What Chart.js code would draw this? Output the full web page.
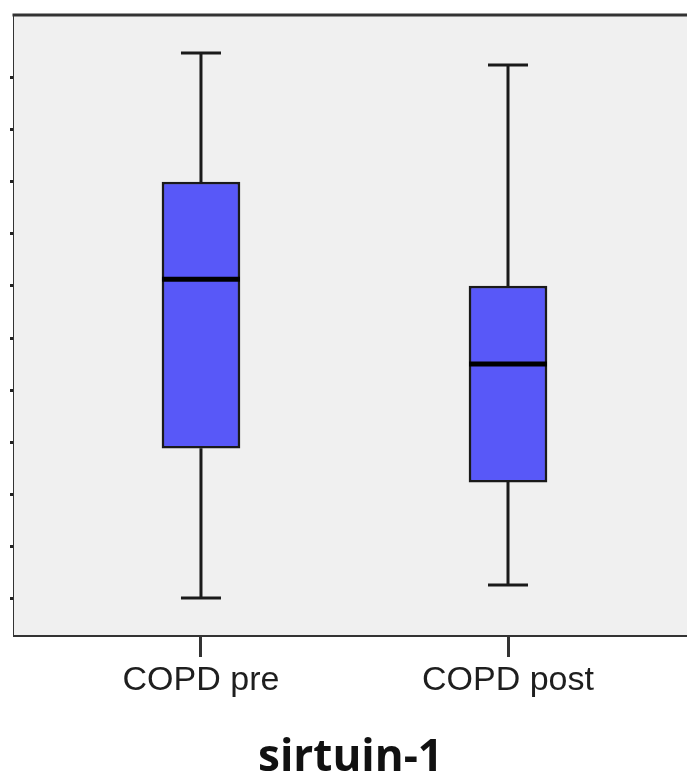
<!DOCTYPE html>
<html>
<head>
<meta charset="utf-8">
<title>sirtuin-1</title>
<script src="https://cdn.jsdelivr.net/npm/chart.js@4.4.1/dist/chart.umd.min.js"></script>
<style>
  html, body { margin: 0; padding: 0; background: #ffffff; overflow: hidden; }
  #wrap { width: 687px; height: 780px; position: relative; }
</style>
</head>
<body>
<div id="wrap"><canvas id="chart" width="687" height="780"></canvas></div>
<script>
// Groups and their box-plot summaries (arbitrary units, one tick = 1 unit)
const categories = ['COPD pre', 'COPD post'];
const minVals    = [0.00, 0.25];
const q1Vals     = [2.88, 2.23];
const medianVals = [6.13, 4.50];
const q3Vals     = [8.00, 6.00];
const maxVals    = [10.48, 10.25];
const yTickValues = [0, 1, 2, 3, 4, 5, 6, 7, 8, 9, 10];
const axisTitle = 'sirtuin-1';

const boxData = categories.map((c, i) => ({ x: i + 1, y: [q1Vals[i], q3Vals[i]] }));

// Grey plot background and the top edge of the frame
const plotFrame = {
  id: 'plotFrame',
  beforeDatasetsDraw(chart) {
    const { ctx, chartArea: a } = chart;
    ctx.save();
    ctx.fillStyle = '#f0f0f0';
    ctx.fillRect(a.left, a.top, a.right - a.left, a.bottom - a.top);
    ctx.restore();
  },
  afterDraw(chart) {
    const { ctx, chartArea: a } = chart;
    ctx.save();
    ctx.strokeStyle = '#333333';
    ctx.lineWidth = 3;
    ctx.beginPath();
    ctx.moveTo(a.left - 1.5, a.top);
    ctx.lineTo(a.right, a.top);
    ctx.stroke();
    ctx.restore();
  }
};

// Whiskers, caps and median lines, placed through the chart's scales
const boxExtras = {
  id: 'boxExtras',
  beforeDatasetsDraw(chart) {
    const { ctx, scales: { x, y } } = chart;
    ctx.save();
    ctx.strokeStyle = '#1a1a1a';
    ctx.lineWidth = 3;
    ctx.lineCap = 'butt';
    const capHalf = 20;
    categories.forEach((c, i) => {
      const px = x.getPixelForValue(i + 1);
      const yMin = y.getPixelForValue(minVals[i]);
      const yQ1 = y.getPixelForValue(q1Vals[i]);
      const yQ3 = y.getPixelForValue(q3Vals[i]);
      const yMax = y.getPixelForValue(maxVals[i]);
      ctx.beginPath();
      ctx.moveTo(px, yQ3); ctx.lineTo(px, yMax);
      ctx.moveTo(px, yQ1); ctx.lineTo(px, yMin);
      ctx.moveTo(px - capHalf, yMax); ctx.lineTo(px + capHalf, yMax);
      ctx.moveTo(px - capHalf, yMin); ctx.lineTo(px + capHalf, yMin);
      ctx.stroke();
    });
    ctx.restore();
  },
  afterDatasetsDraw(chart) {
    const { ctx, scales: { x, y } } = chart;
    const meta = chart.getDatasetMeta(0);
    ctx.save();
    ctx.strokeStyle = '#000000';
    ctx.lineWidth = 5;
    categories.forEach((c, i) => {
      const bar = meta.data[i];
      const half = bar.width / 2;
      const px = x.getPixelForValue(i + 1);
      const py = y.getPixelForValue(medianVals[i]);
      ctx.beginPath();
      ctx.moveTo(px - half, py); ctx.lineTo(px + half, py);
      ctx.stroke();
    });
    ctx.restore();
  }
};

new Chart(document.getElementById('chart'), {
  type: 'bar',
  data: {
    datasets: [{
      data: boxData,
      backgroundColor: '#5858f8',
      borderColor: '#1a1a1a',
      borderWidth: 2.5,
      borderSkipped: false,
      barThickness: 78
    }]
  },
  options: {
    responsive: false,
    animation: false,
    events: [],
    layout: { padding: { left: 0, right: 0, top: 15, bottom: 0 } },
    plugins: { legend: { display: false }, tooltip: { enabled: false } },
    scales: {
      x: {
        type: 'linear',
        offset: false,
        min: 0.391,
        max: 2.583,
        afterBuildTicks(scale) { scale.ticks = categories.map((c, i) => ({ value: i + 1 })); },
        afterFit(scale) { scale.height = 145; },
        ticks: {
          callback: (v) => categories[v - 1] ?? '',
          color: '#1e1e1e',
          font: { family: 'Liberation Sans', size: 34, lineHeight: 1 },
          padding: 7,
          maxRotation: 0,
          autoSkip: false
        },
        grid: { offset: false, drawOnChartArea: false, drawTicks: true, tickLength: 22, tickWidth: 3, tickColor: '#333333' },
        border: { display: true, color: '#333333', width: 3 },
        title: {
          display: true,
          text: axisTitle,
          color: '#111111',
          font: { family: 'Open Sans', size: 44, weight: 'bold', lineHeight: 1 },
          padding: { top: 0, bottom: 0 }
        }
      },
      y: {
        type: 'linear',
        min: -0.71,
        max: 11.21,
        afterBuildTicks(scale) { scale.ticks = yTickValues.map(v => ({ value: v })); },
        afterFit(scale) { scale.width = 14; },
        ticks: { display: false },
        grid: { drawOnChartArea: false, drawTicks: true, tickLength: 4, tickWidth: 3, tickColor: '#222222' },
        border: { display: true, color: '#333333', width: 3 }
      }
    }
  },
  plugins: [plotFrame, boxExtras]
});
</script>
</body>
</html>
